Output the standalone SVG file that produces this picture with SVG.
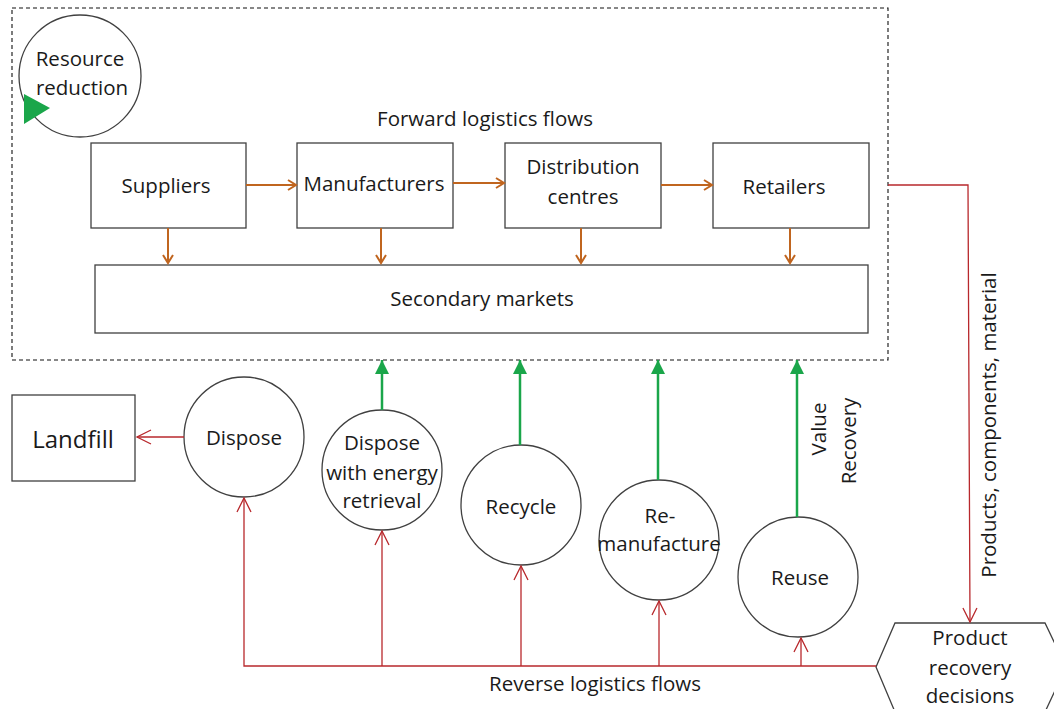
<svg xmlns="http://www.w3.org/2000/svg" width="1054" height="709" viewBox="0 0 1054 709">
<style>
text{font-family:"Open Sans","Liberation Sans",sans-serif;font-size:20.5px;fill:#1a1a1a;text-anchor:middle;dominant-baseline:central}
.box{fill:#fff;stroke:#404040;stroke-width:1.3}
.circ{fill:#fff;stroke:#404040;stroke-width:1.3}
.or{stroke:#c0651f;stroke-width:2;fill:none}
.red{stroke:#b8282c;stroke-width:1.3;fill:none}
.grn{stroke:#1aa64a;stroke-width:2.5;fill:none}
</style>
<defs>
<marker id="ao" markerWidth="12" markerHeight="12" refX="10" refY="6" orient="auto" markerUnits="userSpaceOnUse"><path d="M2,1 L10,6 L2,11" fill="none" stroke="#c0651f" stroke-width="2"/></marker>
<marker id="ar" markerWidth="20" markerHeight="16" refX="17" refY="8" orient="auto" markerUnits="userSpaceOnUse"><path d="M3,1 L17,8 L3,15" fill="none" stroke="#b8282c" stroke-width="1.3"/></marker>
<marker id="ag" markerWidth="16" markerHeight="16" refX="14" refY="8" orient="auto" markerUnits="userSpaceOnUse"><path d="M0,1 L14,8 L0,15 Z" fill="#1aa64a"/></marker>
</defs>
<rect x="12" y="8" width="876" height="352" fill="none" stroke="#111" stroke-width="1.1" stroke-dasharray="4,3"/>
<text x="485" y="118">Forward logistics flows</text>
<g id="resource-reduction">
<circle class="circ" cx="80" cy="76" r="61"/>
<text x="80" y="58">Resource</text>
<text x="82" y="87">reduction</text>
<polygon points="24,94 50,108 24,124" fill="#1aa64a"/>
</g>
<g id="suppliers"><rect class="box" x="91" y="143" width="155" height="85"/><text x="166" y="185">Suppliers</text></g>
<g id="manufacturers"><rect class="box" x="297" y="143" width="156" height="85"/><text x="374" y="183">Manufacturers</text></g>
<g id="distribution"><rect class="box" x="505" y="143" width="156" height="85"/><text x="583" y="166">Distribution</text><text x="583" y="196">centres</text></g>
<g id="retailers"><rect class="box" x="713" y="143" width="156" height="85"/><text x="784" y="186">Retailers</text></g>
<g id="secondary"><rect class="box" x="95" y="265" width="773" height="68"/><text x="482" y="298">Secondary markets</text></g>
<g id="landfill"><rect class="box" x="12" y="395" width="123" height="86"/><text x="73" y="438" style="font-size:24px">Landfill</text></g>
<g id="dispose"><circle class="circ" cx="244" cy="437" r="60"/><text x="244" y="437">Dispose</text></g>
<g id="dispose-energy"><circle class="circ" cx="382" cy="470" r="60"/><text x="382" y="442">Dispose</text><text x="382" y="472">with energy</text><text x="382" y="500">retrieval</text></g>
<g id="recycle"><circle class="circ" cx="521" cy="505" r="60"/><text x="521" y="506">Recycle</text></g>
<g id="remanufacture"><circle class="circ" cx="659" cy="540" r="60"/><text x="660" y="515">Re-</text><text x="659" y="543">manufacture</text></g>
<g id="reuse"><circle class="circ" cx="798" cy="577" r="60"/><text x="800" y="577">Reuse</text></g>
<g id="product-recovery"><polygon class="box" points="876,667 895,623 1045,623 1066,667 1045,712 895,712"/><text x="970" y="637">Product</text><text x="970" y="667">recovery</text><text x="970" y="695">decisions</text></g>
<g id="connectors">
<line class="or" x1="246" y1="185" x2="296" y2="185" marker-end="url(#ao)"/>
<line class="or" x1="453" y1="183" x2="504" y2="183" marker-end="url(#ao)"/>
<line class="or" x1="661" y1="185" x2="712" y2="185" marker-end="url(#ao)"/>
<line class="or" x1="168" y1="228" x2="168" y2="263" marker-end="url(#ao)"/>
<line class="or" x1="381" y1="228" x2="381" y2="263" marker-end="url(#ao)"/>
<line class="or" x1="581" y1="228" x2="581" y2="263" marker-end="url(#ao)"/>
<line class="or" x1="790" y1="228" x2="790" y2="263" marker-end="url(#ao)"/>
<polyline class="red" points="888,185 968,185 970,622" marker-end="url(#ar)"/>
<line class="red" x1="184" y1="437" x2="137" y2="437" marker-end="url(#ar)"/>
<polyline class="red" points="876,666 244,666 244,498" marker-end="url(#ar)"/>
<line class="red" x1="382" y1="666" x2="382" y2="531" marker-end="url(#ar)"/>
<line class="red" x1="521" y1="666" x2="521" y2="566" marker-end="url(#ar)"/>
<line class="red" x1="659" y1="666" x2="659" y2="601" marker-end="url(#ar)"/>
<line class="red" x1="801" y1="666" x2="801" y2="638" marker-end="url(#ar)"/>
<line class="grn" x1="382" y1="410" x2="382" y2="360" marker-end="url(#ag)"/>
<line class="grn" x1="520" y1="445" x2="520" y2="360" marker-end="url(#ag)"/>
<line class="grn" x1="658" y1="480" x2="658" y2="360" marker-end="url(#ag)"/>
<line class="grn" x1="797" y1="517" x2="797" y2="360" marker-end="url(#ag)"/>
</g>
<text x="595" y="683">Reverse  logistics flows</text>
<text transform="translate(818,429) rotate(-90)">Value</text>
<text transform="translate(848,441) rotate(-90)">Recovery</text>
<text transform="translate(988,425) rotate(-90)">Products, components,  material</text>
</svg>
